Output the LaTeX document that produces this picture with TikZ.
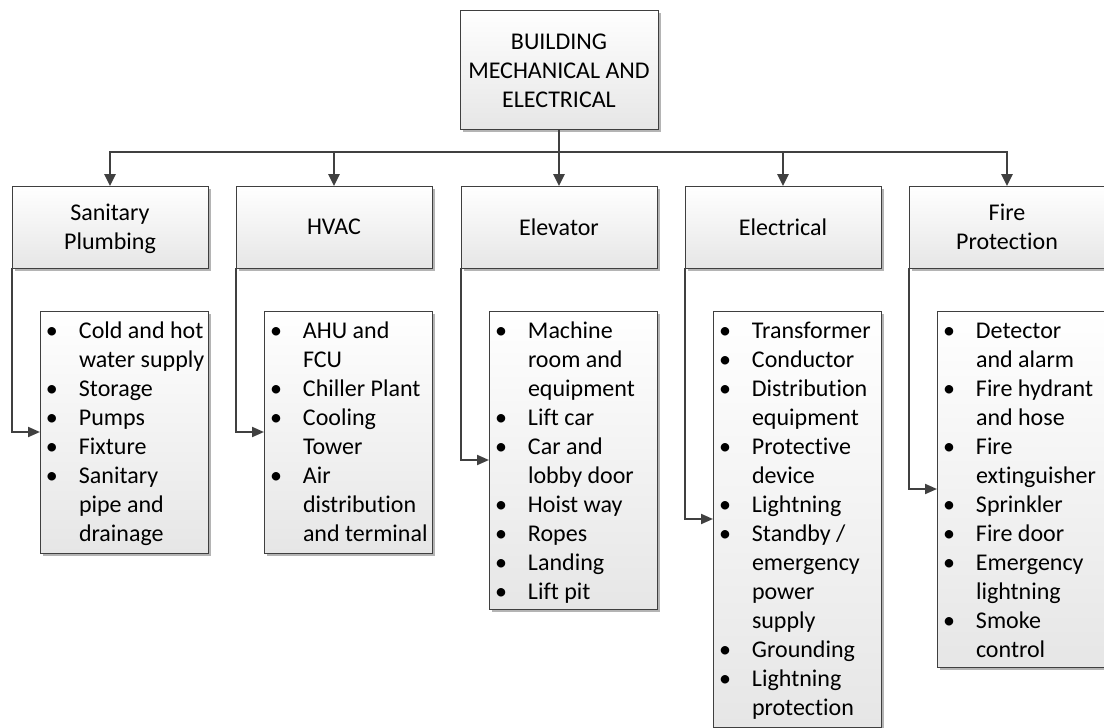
\documentclass[tikz,border=0pt]{standalone}
\usepackage{fontspec}
\setmainfont[Ligatures=NoCommon]{Carlito}
\usetikzlibrary{arrows.meta,shadows}

% one drawing unit = one pixel of a 1104 x 728 canvas
\newlength\upx
\setlength\upx{0.75pt}

\definecolor{edge}{HTML}{3F3F3F}
\definecolor{conn}{HTML}{404040}
\definecolor{shade}{HTML}{E6E6E6}
\definecolor{shadowgray}{HTML}{B4B4B4}

% bullet item and continuation line inside a list box
\newcommand\itm[1]{\hspace*{6\upx}\makebox[33\upx][l]{\textbullet}#1}
\newcommand\cnt[1]{\hspace*{39\upx}#1}
\newcommand\lstbox[1]{\parbox[t]{168\upx}{\raggedright #1}}
% centred multi-line caption, lowered inside its box without changing its size
\newcommand\capt[2]{\raisebox{-#1}[\height][\depth]{\begin{tabular}{@{}c@{}}#2\end{tabular}}}

\tikzset{
  txt/.style={font=\fontsize{18}{21.75}\selectfont},
  boxbase/.style={txt, draw=edge, line width=0.75pt, top color=white, bottom color=shade,
    general shadow={fill=shadowgray, shadow xshift=2.25pt, shadow yshift=-2.25pt},
    outer sep=0pt, anchor=north west},
  headbox/.style={boxbase, minimum width=148.5pt, minimum height=89.25pt, inner sep=0pt},
  catbox/.style={boxbase, minimum width=147pt, minimum height=61.5pt, inner sep=0pt},
  lstbox/.style={boxbase, minimum width=126pt, inner sep=0pt, text height=20.25pt},
  bus/.style={draw=conn, line width=1.9pt, -{Triangle[length=9pt,width=8.25pt]}},
  feed/.style={draw=conn, line width=1.5pt, -{Triangle[length=9pt,width=7.5pt]}}
}

\begin{document}
\begin{tikzpicture}[x=0.75pt, y=-0.75pt]
\useasboundingbox (0,0) rectangle (1104,728);

% top of the hierarchy
\node[headbox] (top) at (460,10) {\capt{2.25pt}{BUILDING\\MECHANICAL AND\\ELECTRICAL}};

% second level
\node[catbox] (san)  at (12,186)  {\capt{1.5pt}{Sanitary\\Plumbing}};
\node[catbox] (hvac) at (236,186) {HVAC};
\node[catbox] (elev) at (461,186) {Elevator};
\node[catbox] (elec) at (685,186) {Electrical};
\node[catbox] (fire) at (909,186) {\capt{1.5pt}{Fire\\Protection}};

% item lists
\node[lstbox, text depth=161.25pt] (sanl) at (40,311) {\lstbox{%
  \itm{Cold and hot}\\\cnt{water supply}\\\itm{Storage}\\\itm{Pumps}\\\itm{Fixture}\\%
  \itm{Sanitary}\\\cnt{pipe and}\\\cnt{drainage}}};
\node[lstbox, text depth=161.25pt] (hvacl) at (264,311) {\lstbox{%
  \itm{AHU and}\\\cnt{FCU}\\\itm{Chiller Plant}\\\itm{Cooling}\\\cnt{Tower}\\%
  \itm{Air}\\\cnt{distribution}\\\cnt{and terminal}}};
\node[lstbox, text depth=203.25pt] (elevl) at (489,311) {\lstbox{%
  \itm{Machine}\\\cnt{room and}\\\cnt{equipment}\\\itm{Lift car}\\\itm{Car and}\\%
  \cnt{lobby door}\\\itm{Hoist way}\\\itm{Ropes}\\\itm{Landing}\\\itm{Lift pit}}};
\node[lstbox, text depth=291.75pt] (elecl) at (713,311) {\lstbox{%
  \itm{Transformer}\\\itm{Conductor}\\\itm{Distribution}\\\cnt{equipment}\\%
  \itm{Protective}\\\cnt{device}\\\itm{Lightning}\\\itm{Standby /}\\\cnt{emergency}\\%
  \cnt{power}\\\cnt{supply}\\\itm{Grounding}\\\itm{Lightning}\\\cnt{protection}}};
\node[lstbox, text depth=246.75pt] (firel) at (937,311) {\lstbox{%
  \itm{Detector}\\\cnt{and alarm}\\\itm{Fire hydrant}\\\cnt{and hose}\\\itm{Fire}\\%
  \cnt{extinguisher}\\\itm{Sprinkler}\\\itm{Fire door}\\\itm{Emergency}\\\cnt{lightning}\\%
  \itm{Smoke}\\\cnt{control}}};

% distribution bus below the top box
\coordinate (busy) at (559,152);
\foreach \c in {san,hvac,elev,elec,fire}
  \draw[bus] (top.south) -- (busy) -| (\c.north);

% category to list connectors
\draw[feed] (san.south west)  |- (sanl.west);
\draw[feed] (hvac.south west) |- (hvacl.west);
\draw[feed] (elev.south west) |- (elevl.west);
\draw[feed] (elec.south west) |- (elecl.west);
\draw[feed] (fire.south west) |- (firel.west);
\end{tikzpicture}
\end{document}
